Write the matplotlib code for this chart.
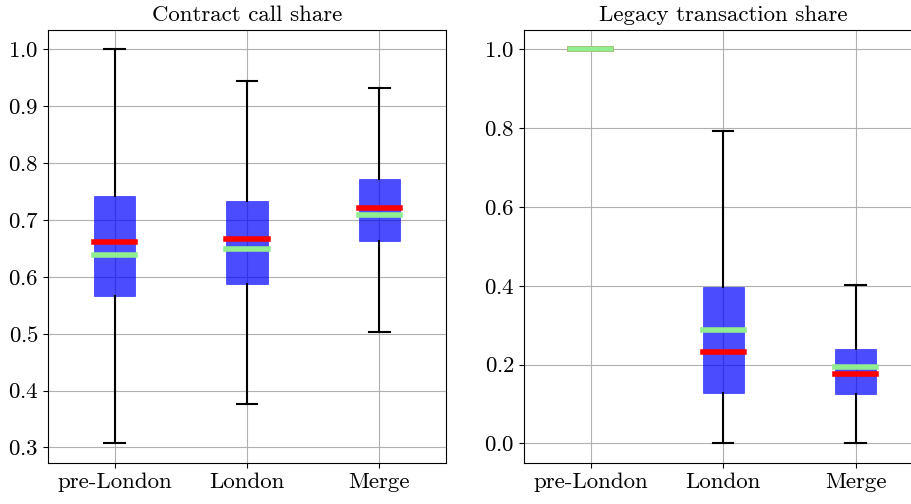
import matplotlib
matplotlib.use("Agg")
import matplotlib.pyplot as plt

plt.rcParams["font.family"] = "serif"
plt.rcParams["font.serif"] = ["cmr10"]
plt.rcParams["mathtext.fontset"] = "cm"
plt.rcParams["axes.formatter.use_mathtext"] = True
plt.rcParams["font.size"] = 16.5

periods = ["pre-London", "London", "Merge"]

# Contract call share
cc_whislo = [0.307, 0.377, 0.503]
cc_q1 = [0.567, 0.588, 0.663]
cc_med = [0.662, 0.666, 0.721]
cc_mean = [0.639, 0.649, 0.708]
cc_q3 = [0.743, 0.733, 0.773]
cc_whishi = [1.0, 0.944, 0.933]

# Legacy transaction share
lt_whislo = [1.0, 0.0, 0.0]
lt_q1 = [1.0, 0.129, 0.126]
lt_med = [1.0, 0.233, 0.177]
lt_mean = [1.0, 0.288, 0.195]
lt_q3 = [1.0, 0.398, 0.239]
lt_whishi = [1.0, 0.792, 0.401]


def make_stats(lo, q1, med, mean, q3, hi):
    stats = []
    for i in range(len(periods)):
        stats.append({"label": periods[i], "whislo": lo[i], "q1": q1[i], "med": med[i],
                      "mean": mean[i], "q3": q3[i], "whishi": hi[i], "fliers": []})
    return stats


def draw(ax, stats, title):
    ax.bxp(stats, widths=0.31, showmeans=True, meanline=True, patch_artist=True,
           showfliers=False,
           boxprops=dict(facecolor="blue", edgecolor="blue", alpha=0.7, linewidth=0.5),
           medianprops=dict(color="red", linewidth=4, solid_capstyle="projecting"),
           meanprops=dict(color="lightgreen", linestyle="-", linewidth=4,
                          solid_capstyle="projecting"),
           whiskerprops=dict(color="black", linewidth=1.5),
           capprops=dict(color="black", linewidth=1.5))
    ax.set_title(title, fontsize=16.5)
    ax.grid(True)


fig = plt.figure(figsize=(9.12, 5.04), dpi=100)
ax1 = fig.add_axes([0.053, 0.081, 0.4357, 0.86])
ax2 = fig.add_axes([0.575, 0.081, 0.4357, 0.86])

draw(ax1, make_stats(cc_whislo, cc_q1, cc_med, cc_mean, cc_q3, cc_whishi), "Contract call share")
draw(ax2, make_stats(lt_whislo, lt_q1, lt_med, lt_mean, lt_q3, lt_whishi), "Legacy transaction share")

fig.savefig("out.png", dpi=100)
